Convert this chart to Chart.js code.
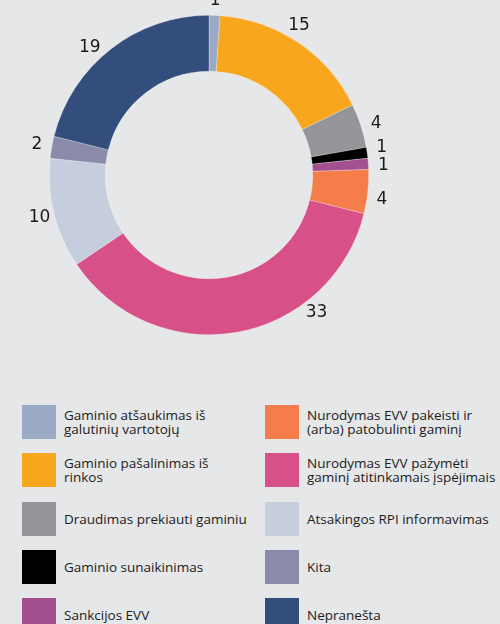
<!DOCTYPE html>
<html lang="lt">
<head>
<meta charset="UTF-8">
<title>Priemonės</title>
<script src="https://cdn.jsdelivr.net/npm/chart.js"></script>
<style>
  html, body { margin: 0; padding: 0; background: #e6e7e8; }
  #wrap { position: relative; width: 500px; height: 624px; overflow: hidden; }
  #chartBox { width: 500px; height: 360px; }
  #legend {
    position: absolute; left: 0; top: 405px; width: 500px;
    display: grid; grid-auto-flow: column;
    grid-template-columns: 243px 257px;
    grid-template-rows: repeat(5, 34px); row-gap: 14.25px;
    font-family: "Open Sans", sans-serif; font-size: 13.5px; line-height: 14px; color: #1c1c1c;
  }
  .item { display: flex; align-items: center; white-space: nowrap; }
  .item .sw { width: 34px; height: 34px; flex: none; margin-right: 8px; }
  .col0 { padding-left: 22px; }
  .col1 { padding-left: 22px; }
</style>
</head>
<body>
<div id="wrap">
  <div id="chartBox"><canvas id="pie"></canvas></div>
  <div id="legend"></div>
</div>
<script>
  const labels = [
    ['Gaminio atšaukimas iš', 'galutinių vartotojų'],
    ['Gaminio pašalinimas iš', 'rinkos'],
    ['Draudimas prekiauti gaminiu'],
    ['Gaminio sunaikinimas'],
    ['Sankcijos EVV'],
    ['Nurodymas EVV pakeisti ir', '(arba) patobulinti gaminį'],
    ['Nurodymas EVV pažymėti', 'gaminį atitinkamais įspėjimais'],
    ['Atsakingos RPI informavimas'],
    ['Kita'],
    ['Nepranešta']
  ];
  const values = [1, 15, 4, 1, 1, 4, 33, 10, 2, 19];
  const colors = ['#9aa9c4', '#f9a61f', '#939598', '#000000', '#a3508f',
                  '#f47d4a', '#d75188', '#c6cddc', '#8a8bab', '#334d7c'];

  // small nudges (degrees) so labels sit where the original put them
  const labelShift = [0, -3, 1, -1, 1, 2, -28, 0, 0, -5];

  const outsideLabels = {
    id: 'outsideLabels',
    afterDatasetsDraw(chart) {
      const ctx = chart.ctx;
      const meta = chart.getDatasetMeta(0);
      ctx.save();
      ctx.font = '17px "DejaVu Sans", sans-serif';
      ctx.fillStyle = '#1a1a1a';
      ctx.textAlign = 'center';
      ctx.textBaseline = 'middle';
      meta.data.forEach((arc, i) => {
        const p = arc.getProps(['x', 'y', 'startAngle', 'endAngle', 'outerRadius'], true);
        const a = (p.startAngle + p.endAngle) / 2 + labelShift[i] * Math.PI / 180;
        const r = p.outerRadius + 15;
        ctx.fillText(String(chart.data.datasets[0].data[i]), p.x + Math.cos(a) * r, p.y + Math.sin(a) * r);
      });
      ctx.restore();
    }
  };

  new Chart(document.getElementById('pie'), {
    type: 'doughnut',
    data: {
      labels: labels.map(l => l.join(' ')),
      datasets: [{
        data: values,
        backgroundColor: colors,
        borderColor: 'rgba(255,255,255,0.45)',
        borderWidth: 0.6
      }]
    },
    options: {
      responsive: true,
      maintainAspectRatio: false,
      animation: false,
      cutout: '65%',
      layout: { padding: { left: 0, right: 82, top: 15, bottom: 25 } },
      plugins: { legend: { display: false }, tooltip: { enabled: false } }
    },
    plugins: [outsideLabels]
  });

  // legend, two columns filled top to bottom
  const legend = document.getElementById('legend');
  labels.forEach((l, i) => {
    const div = document.createElement('div');
    div.className = 'item ' + (i < 5 ? 'col0' : 'col1');
    div.innerHTML = '<span class="sw" style="background:' + colors[i] + '"></span><span>' + l.join('<br>') + '</span>';
    legend.appendChild(div);
  });
</script>
</body>
</html>
